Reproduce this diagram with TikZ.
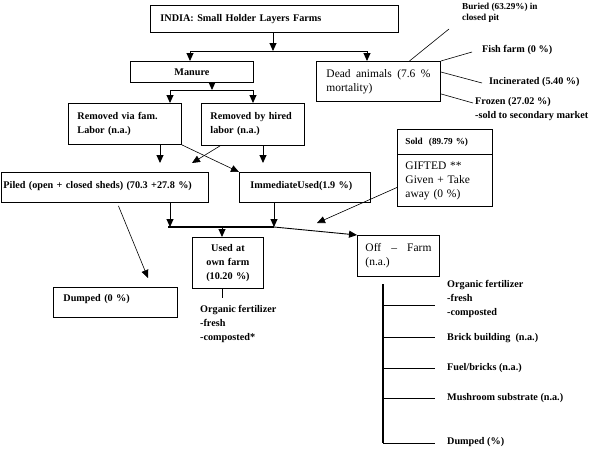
\documentclass[tikz,border=0pt]{standalone}
\usepackage{fontspec}
\setmainfont{Liberation Serif}
\usetikzlibrary{arrows.meta}
\newcommand\myBold{\fontsize{10.2}{14}\selectfont\bfseries}
\newcommand\myReg{\fontsize{11.5}{14}\selectfont}
\newcommand\mySmall{\fontsize{9.2}{11}\selectfont\bfseries}
\begin{document}
\begin{tikzpicture}[x=1pt,y=-1pt,
  box/.style={draw, line width=0.9pt, anchor=north west, inner ysep=0pt, align=left, font=\myBold},
  lbl/.style={anchor=west, inner sep=0pt, align=left, font=\myBold},
  ln/.style={line width=0.9pt},
  arr/.style={line width=0.9pt, -{Triangle[width=7pt,length=8pt]}},
  thin/.style={line width=0.6pt}]
\useasboundingbox (0,0) rectangle (599,448);

% boxes
\node[box, minimum width=248pt, minimum height=27pt, text width=228pt, inner xsep=10pt] (india) at (150,5) {INDIA: Small Holder Layers Farms};
\node[box, minimum width=123pt, minimum height=21pt, text width=103pt, inner xsep=10pt, align=center] (manure) at (130,61) {Manure};
\node[box, minimum width=124pt, minimum height=40pt, text width=104pt, inner xsep=10pt, font=\myReg] (dead) at (316,61) {Dead\hfill animals\hfill (7.6\hfill \%\\mortality)};
\node[box, minimum width=113pt, minimum height=41pt, text width=95pt, inner xsep=9pt] (remfam) at (68,103) {Removed via fam.\\Labor (n.a.)};
\node[box, minimum width=103pt, minimum height=42pt, text width=85pt, inner xsep=9pt] (remhired) at (201,103) {Removed by hired\\labor (n.a.)};
\node[box, minimum width=207pt, minimum height=30pt, text width=203pt, inner xsep=2pt, text depth=5pt] (piled) at (1,172) {Piled (open + closed sheds) (70.3 +27.8 \%)};
\node[box, minimum width=131pt, minimum height=30pt, text width=109pt, inner xsep=11pt, text depth=5pt] (immediate) at (239,172) {ImmediateUsed(1.9 \%)};
\node[box, minimum width=95pt, minimum height=25pt, text width=79pt, inner xsep=8pt, font=\mySmall] (soldtop) at (397,129) {Sold\ \ (89.79 \%)};
\node[box, minimum width=95pt, minimum height=52pt, text width=79pt, inner xsep=8pt, font=\myReg] (gifted) at (397,154) {GIFTED **\\Given + Take\\away (0 \%)};
\node[box, minimum width=71pt, minimum height=51pt, text width=61pt, inner xsep=5pt, align=center] (used) at (192,237) {Used at\\own farm\\(10.20 \%)};
\node[box, minimum width=82pt, minimum height=41pt, text width=66pt, inner xsep=8pt, font=\myReg] (offfarm) at (357,235) {Off\hfill --\hfill Farm\\(n.a.)};
\node[box, minimum width=124pt, minimum height=30pt, text width=104pt, inner xsep=10pt, text depth=8pt] (dumpbox) at (53,287) {Dumped (0 \%)};

% free labels
\node[lbl, font=\mySmall] (buried) at (462,13) {Buried (63.29\%) in\\closed pit};
\node[lbl] (fish) at (482,50) {Fish farm (0 \%)};
\node[lbl] (incin) at (489,82) {Incinerated (5.40 \%)};
\node[lbl] (frozen) at (475,109) {Frozen (27.02 \%)\\-sold to secondary market};
\node[lbl] (orgused) at (200,323.5) {Organic fertilizer\\-fresh\\-composted*};
\node[lbl] (orgoff) at (447,299) {Organic fertilizer\\-fresh\\-composted};
\node[lbl] (brick) at (447,338) {Brick building\ \ (n.a.)};
\node[lbl] (fuel) at (447,368) {Fuel/bricks (n.a.)};
\node[lbl] (mush) at (447,398) {Mushroom substrate (n.a.)};
\node[lbl] (dumpoff) at (447,442) {Dumped (\%)};

% junction coordinates
\coordinate (j1) at (273,51);
\coordinate (j1l) at (190,51);
\coordinate (j1r) at (367,51);
\coordinate (j2) at (212,90);
\coordinate (j2l) at (170,90);
\coordinate (j2r) at (253,90);
\coordinate (p1) at (160,163);
\coordinate (p2) at (263,163);
\coordinate (p3) at (192,163);
\coordinate (k1) at (170,227);
\coordinate (k2) at (274,227);
\coordinate (k3) at (222,227);
\coordinate (g1) at (317,223);
\coordinate (dm) at (148,278);
\coordinate (ue) at (222,298);
\coordinate (bur) at (449,29);
\coordinate (fsh) at (472,52);
\coordinate (inc) at (482,83);
\coordinate (frz) at (473,103);
\coordinate (t0) at (383,284);
\coordinate (t1) at (383,305);
\coordinate (t2) at (383,337);
\coordinate (t3) at (383,368);
\coordinate (t4) at (383,398);
\coordinate (t5) at (383,443);

% connectors
\draw[arr] (india.south -| j1) -- (j1);
\draw[ln] (j1l) -- (j1r);
\draw[arr] (j1l) -- (j1l |- manure.north);
\draw[arr] (j1r) -- (j1r |- dead.north);

\draw[arr] (manure.south -| j2) -- (j2);
\draw[ln] (j2l) -- (j2r);
\draw[arr] (j2l) -- (j2l |- remfam.north);
\draw[arr] (j2r) -- (j2r |- remhired.north);

\draw[arr] (remfam.south -| p1) -- (p1);
\draw[arr] (remhired.south -| p2) -- (p2);
\draw[arr, thin] (remfam.south east) -- (immediate.north west);
\draw[arr, thin] ([xshift=19pt]remhired.south west) -- (p3);

\draw[arr] (piled.south -| k1) -- (k1);
\draw[arr] (immediate.south -| k2) -- (k2);
\draw[line width=2pt] ([xshift=-2pt]k1) -- (k2);
\draw[arr] (k3) -- (k3 |- used.north);
\draw[arr] (k2) -- (offfarm.north west);
\draw[arr, thin] ([yshift=-7pt]gifted.west) -- (g1);
\draw[arr, thin] ([shift={(13.5,3)}]piled.south) -- (dm);
\draw[ln] (used.south -| ue) -- (ue);

\draw[thin] ([xshift=31pt]dead.north) -- (bur);
\draw[thin] (dead.north east) -- (fsh);
\draw[thin] ([yshift=-11pt]dead.north east) -- (inc);
\draw[thin] ([yshift=8pt]dead.south east) -- (frz);

\draw[line width=1.4pt] (t0) -- (t5);
\foreach \t in {t1,t2,t3,t4,t5} \draw[ln] (\t) -- ++(52,0);
\end{tikzpicture}
\end{document}
